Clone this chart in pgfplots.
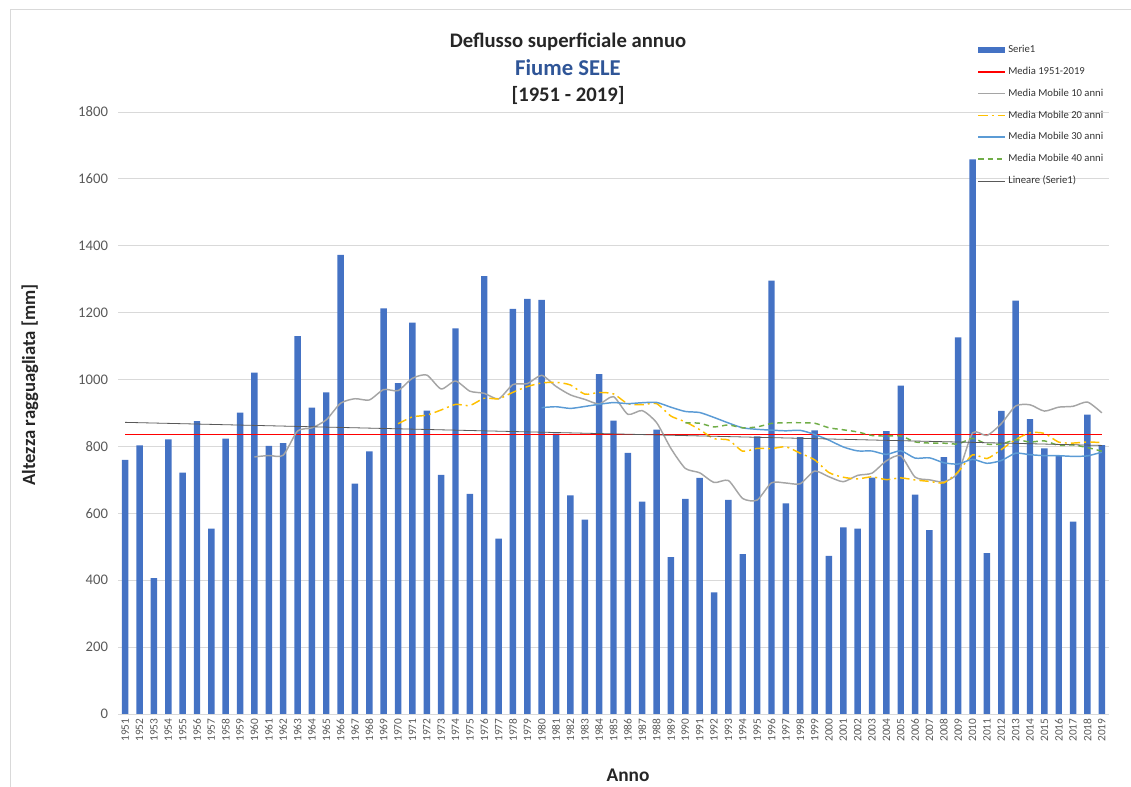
\documentclass[border=0pt]{standalone}
\usepackage{fontspec}
\setmainfont{Carlito}
\usepackage{pgfplots}
\pgfplotsset{compat=1.18}
\usepackage{pgfplotstable}

\definecolor{barblue}{RGB}{68,114,196}
\definecolor{mediared}{RGB}{255,0,0}
\definecolor{maten}{RGB}{165,165,165}
\definecolor{matwenty}{RGB}{255,192,0}
\definecolor{mathirty}{RGB}{91,155,213}
\definecolor{maforty}{RGB}{112,173,71}
\definecolor{trendc}{RGB}{89,89,89}
\definecolor{titleblue}{RGB}{47,85,151}
\definecolor{ticktext}{RGB}{89,89,89}
\definecolor{gridc}{RGB}{217,217,217}

\pgfplotsset{
  lineleg/.style={legend image code/.code={\draw[##1] (0pt,0pt) -- (20pt,0pt);}},
  barleg/.style={legend image code/.code={\fill[barblue] (0pt,-2pt) rectangle (20pt,2pt);}},
}

\pgfplotstableread{
year value
1951 760
1952 803
1953 406
1954 821
1955 722
1956 876
1957 554
1958 823
1959 901
1960 1021
1961 802
1962 810
1963 1130
1964 916
1965 962
1966 1373
1967 689
1968 785
1969 1213
1970 989
1971 1170
1972 907
1973 715
1974 1153
1975 658
1976 1309
1977 524
1978 1211
1979 1241
1980 1238
1981 838
1982 654
1983 581
1984 1016
1985 877
1986 781
1987 635
1988 850
1989 469
1990 643
1991 706
1992 364
1993 640
1994 478
1995 830
1996 1296
1997 630
1998 828
1999 848
2000 473
2001 558
2002 554
2003 707
2004 846
2005 982
2006 656
2007 550
2008 768
2009 1126
2010 1658
2011 481
2012 906
2013 1236
2014 882
2015 794
2016 774
2017 575
2018 895
2019 804
}\serie

\pgfplotstableread{
year value
1960 768.7
1961 772.9
1962 773.6
1963 846.0
1964 855.5
1965 879.5
1966 929.2
1967 942.7
1968 938.9
1969 970.1
1970 966.9
1971 1003.7
1972 1013.4
1973 971.9
1974 995.6
1975 965.2
1976 958.8
1977 942.3
1978 984.9
1979 987.7
1980 1012.6
1981 979.4
1982 954.1
1983 940.7
1984 927.0
1985 948.9
1986 896.1
1987 907.2
1988 871.1
1989 793.9
1990 734.4
1991 721.2
1992 692.2
1993 698.1
1994 644.3
1995 639.6
1996 691.1
1997 690.6
1998 688.4
1999 726.3
2000 709.3
2001 694.5
2002 713.5
2003 720.2
2004 757.0
2005 772.2
2006 708.2
2007 700.2
2008 694.2
2009 722.0
2010 840.5
2011 832.8
2012 868.0
2013 920.9
2014 924.5
2015 905.7
2016 917.5
2017 920.0
2018 932.7
2019 900.5
}\matenTab

\pgfplotstableread{
year value
1970 867.8
1971 888.3
1972 893.5
1973 909.0
1974 925.6
1975 922.4
1976 944.0
1977 942.5
1978 961.9
1979 978.9
1980 989.8
1981 991.6
1982 983.8
1983 956.3
1984 961.3
1985 957.1
1986 927.5
1987 924.8
1988 928.0
1989 890.8
1990 873.5
1991 850.3
1992 823.2
1993 819.4
1994 785.7
1995 794.3
1996 793.6
1997 798.9
1998 779.8
1999 760.1
2000 721.9
2001 707.9
2002 702.9
2003 709.2
2004 700.7
2005 705.9
2006 699.7
2007 695.4
2008 691.3
2009 724.2
2010 774.9
2011 763.7
2012 790.8
2013 820.6
2014 840.8
2015 839.0
2016 812.9
2017 810.1
2018 813.5
2019 811.3
}\matwentyTab

\pgfplotstableread{
year value
1980 916.1
1981 918.7
1982 913.7
1983 919.5
1984 926.0
1985 931.2
1986 928.0
1987 930.7
1988 931.6
1989 917.2
1990 904.6
1991 901.4
1992 886.6
1993 870.2
1994 855.6
1995 851.2
1996 848.7
1997 846.7
1998 848.1
1999 836.0
2000 818.8
2001 798.4
2002 786.6
2003 786.3
2004 776.1
2005 786.9
2006 765.1
2007 766.0
2008 751.2
2009 747.4
2010 761.4
2011 749.5
2012 757.9
2013 779.7
2014 775.3
2015 772.5
2016 772.3
2017 770.3
2018 771.8
2019 782.9
}\mathirtyTab

\pgfplotstableread{
year value
1990 870.7
1991 869.3
1992 858.3
1993 864.2
1994 855.6
1995 858.3
1996 868.8
1997 870.7
1998 870.8
1999 869.5
2000 855.8
2001 849.7
2002 843.3
2003 832.7
2004 831.0
2005 831.5
2006 813.6
2007 810.1
2008 809.7
2009 807.5
2010 824.2
2011 807.0
2012 807.0
2013 820.0
2014 813.2
2015 816.6
2016 803.2
2017 804.5
2018 796.6
2019 785.7
}\mafortyTab

\begin{document}
\begin{tikzpicture}
\path[use as bounding box] (0pt,0pt) rectangle (848.25pt,590.25pt);
\draw[gridc, line width=0.6pt] (7.5pt,0pt) -- (7.5pt,583.1pt) -- (848.25pt,583.1pt);

\node[font=\fontsize{15.5}{18}\selectfont\bfseries, text=black!85] at (426pt,558.5pt) {Deflusso superficiale annuo};
\node[font=\fontsize{17}{20}\selectfont\bfseries, text=titleblue] at (426pt,539.5pt) {Fiume SELE};
\node[font=\fontsize{15.5}{18}\selectfont\bfseries, text=black!85] at (426pt,518.5pt) {[1951 - 2019]};

\node[font=\fontsize{14}{16}\selectfont\bfseries, text=black!85, rotate=90] at (22.5pt,301.5pt) {Altezza ragguagliata [mm]};
\node[font=\fontsize{14.5}{17}\selectfont\bfseries, text=black!85] at (471pt,8.5pt) {Anno};

\begin{axis}[
  at={(88.5pt,54.75pt)}, anchor=south west,
  width=743.25pt, height=451.5pt, scale only axis,
  xmin=1950.5, xmax=2019.5,
  ymin=0, ymax=1800,
  ytick={0,200,...,1800},
  xtick=data,
  major tick length=0pt,
  axis line style={draw=none},
  ymajorgrids, grid style={gridc, line width=0.6pt},
  /pgf/number format/assume math mode=true,
  /pgf/number format/1000 sep={},
  yticklabel style={font=\fontsize{11}{13}\selectfont, text=ticktext, xshift=-4pt},
  xticklabel style={font=\fontsize{8.5}{10}\selectfont, text=ticktext, rotate=90, anchor=east},
  legend style={
    at={(axis description cs:0.863,1.12)}, anchor=north west,
    draw=none, fill=none,
    font=\fontsize{8}{9.5}\selectfont, text=black!80,
    row sep=5.3pt,
    /tikz/every even column/.append style={column sep=2pt},
  },
  legend cell align=left,
  clip=false,
]
\draw[gridc, line width=0.6pt] (axis cs:1950.5,0) -- (axis cs:2019.5,0);

\addplot[ybar, bar width=0.45, fill=barblue, draw=none, barleg]
  table[x=year, y=value] {\serie};
\addlegendentry{Serie1}

\addplot[mediared, line width=1.1pt, lineleg]
  coordinates {(1951,836) (2019,836)};
\addlegendentry{Media 1951-2019}

\addplot[maten, line width=1.1pt, smooth, tension=0.4, lineleg]
  table[x=year, y=value] {\matenTab};
\addlegendentry{Media Mobile 10 anni}

\addplot[matwenty, line width=1.1pt, smooth, tension=0.4, dash pattern=on 7pt off 3pt on 1.5pt off 3pt, lineleg]
  table[x=year, y=value] {\matwentyTab};
\addlegendentry{Media Mobile 20 anni}

\addplot[mathirty, line width=1.1pt, smooth, tension=0.4, lineleg]
  table[x=year, y=value] {\mathirtyTab};
\addlegendentry{Media Mobile 30 anni}

\addplot[maforty, line width=1.1pt, smooth, tension=0.4, dash pattern=on 4pt off 3pt, lineleg]
  table[x=year, y=value] {\mafortyTab};
\addlegendentry{Media Mobile 40 anni}

\addplot[trendc, line width=0.6pt, lineleg]
  coordinates {(1951,872) (2019,803)};
\addlegendentry{Lineare (Serie1)}
\end{axis}
\end{tikzpicture}
\end{document}
